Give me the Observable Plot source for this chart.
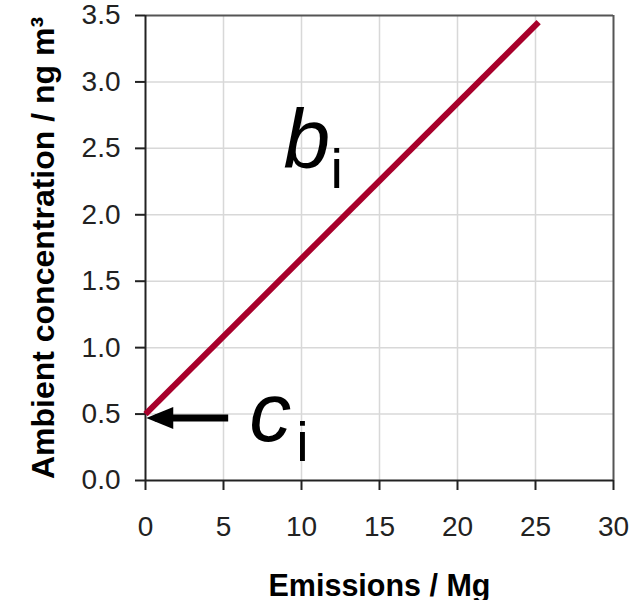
<!DOCTYPE html>
<html>
<head>
<meta charset="utf-8">
<script src="https://cdn.jsdelivr.net/npm/d3@7"></script>
<script src="https://cdn.jsdelivr.net/npm/@observablehq/plot@0.6"></script>
<style>
  html, body { margin: 0; padding: 0; background: #fff; }
  #chart svg { display: block; }
</style>
</head>
<body>
<div id="chart"></div>
<script>
// ---- data ----
const xTicks = [0, 5, 10, 15, 20, 25, 30];
const yTicks = [0.0, 0.5, 1.0, 1.5, 2.0, 2.5, 3.0, 3.5];
const lineX = [0, 25.2];
const lineY = [0.5, 3.45];
const ciValue = 0.5;          // intercept c_i
const arrowTailX = 5.3;
const xLabel = "Emissions / Mg";
const yLabel = "Ambient concentration / ng m³";
const annLetters = ["b", "c"];
const annX = [8.85, 6.65];
const annY = [2.35, 0.30];

const lineData = lineX.map((x, i) => ({x, y: lineY[i]}));
const annData = annLetters.map((t, i) => ({t, x: annX[i], y: annY[i]}));

const FONT = "Liberation Sans, Arial, Helvetica, sans-serif";

const arrowHead = {
  draw(context) {
    const L = 27, H = 11;
    context.moveTo(0, 0);
    context.lineTo(L, -H);
    context.lineTo(L, H);
    context.closePath();
  }
};

const chart = Plot.plot({
  width: 642,
  height: 600,
  marginLeft: 145,
  marginRight: 29,
  marginTop: 15,
  marginBottom: 120,
  style: {fontFamily: FONT, background: "#fff"},
  x: {domain: [0, 30]},
  y: {domain: [0, 3.5]},
  marks: [
    Plot.gridX(xTicks.slice(1, -1), {stroke: "#d8d8d8", strokeOpacity: 1, strokeWidth: 1.5}),
    Plot.gridY(yTicks.slice(1, -1), {stroke: "#d8d8d8", strokeOpacity: 1, strokeWidth: 1.5}),
    Plot.ruleY([3.5], {stroke: "#555", strokeWidth: 2}),
    Plot.ruleX([30], {stroke: "#555", strokeWidth: 2}),
    Plot.axisX(xTicks, {tickSize: 10, tickPadding: 26, fontSize: 28, strokeWidth: 2, stroke: "#222", color: "#222", label: null}),
    Plot.axisY(yTicks, {tickSize: 10, tickPadding: 15, fontSize: 28, strokeWidth: 2, stroke: "#222", color: "#222", label: null, tickFormat: d3.format(".1f")}),
    Plot.ruleY([0], {stroke: "#222", strokeWidth: 2}),
    Plot.ruleX([0], {stroke: "#222", strokeWidth: 2}),
    Plot.line(lineData, {x: "x", y: "y", stroke: "#a8002b", strokeWidth: 6, strokeLinecap: "butt"}),
    // arrow pointing at c_i
    Plot.link([{x1: arrowTailX, x2: 0.6, y: ciValue}], {x1: "x1", x2: "x2", y1: "y", y2: "y", stroke: "#000", strokeWidth: 7, dy: 4}),
    Plot.dot([{x: 0.05, y: ciValue}], {x: "x", y: "y", symbol: arrowHead, fill: "#000", stroke: null, dy: 4}),
    // annotation letters
    Plot.text(annData, {x: "x", y: "y", text: "t", fontSize: 84, fontStyle: "italic", textAnchor: "start", lineAnchor: "bottom", fill: "#000"}),
    Plot.text(annData, {x: "x", y: "y", text: () => "i", fontSize: 56, textAnchor: "start", lineAnchor: "bottom", dx: 47, dy: 20, fill: "#000"}),
    // axis titles
    Plot.text([xLabel], {frameAnchor: "bottom", textAnchor: "middle", lineAnchor: "bottom", dy: 115, fontSize: 30.5, fontWeight: "bold", fill: "#000"}),
    Plot.text([yLabel], {frameAnchor: "left", textAnchor: "middle", lineAnchor: "bottom", rotate: -90, dx: -92, fontSize: 32, fontWeight: "bold", fill: "#000"})
  ]
});

document.getElementById("chart").appendChild(chart);
</script>
</body>
</html>
